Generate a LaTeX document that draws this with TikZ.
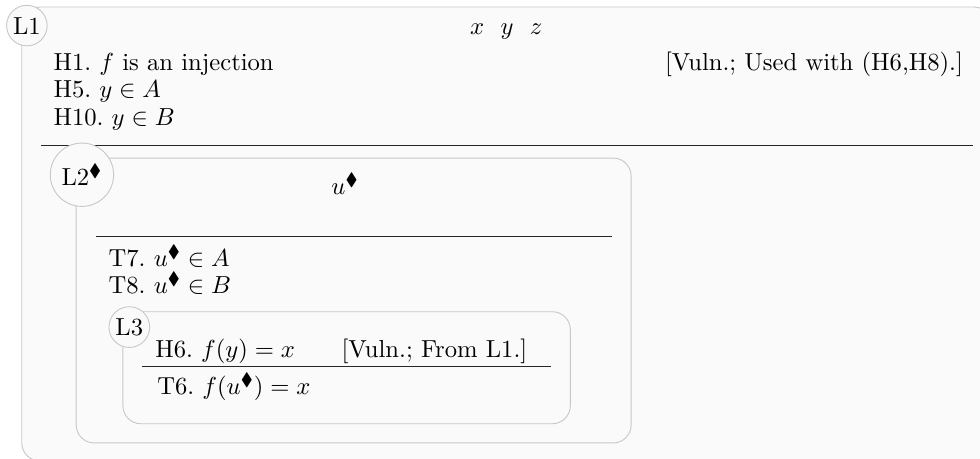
\documentclass[tikz,border=0pt,11pt]{standalone}
\usepackage{amssymb}
\usetikzlibrary{positioning}

\frenchspacing
\newcommand{\dmd}{{\blacklozenge}}

\begin{document}
\begin{tikzpicture}[
  x=1cm, y=1cm,
  level/.style={draw=black!22, fill=black!2, line width=0.4pt, rounded corners=8pt},
  tag/.style={circle, draw=black!22, fill=black!2, line width=0.4pt, inner sep=1.3pt},
  rule/.style={black!85, line width=0.5pt},
  fml/.style={inner sep=0pt}
]
  \useasboundingbox (0,0) rectangle (15.31,7.17);
  \clip (0,0) rectangle (15.31,7.17);

  %% ============================================ level one, open at right
  \draw[level] (0.34,-0.03) rectangle (15.50,7.06);
  \node[fml] (vars) at (7.91,6.67) {$x\ \ y\ \ z$};
  \node[fml, anchor=base west] (h1) at (0.83,6.07) {H1. $f$ is an injection};
  \node[fml, anchor=base west] (h5) at (0.83,5.64) {H5. $y \in A$};
  \node[fml, anchor=base west] (h10) at (0.83,5.21) {H10. $y \in B$};
  \node[fml, anchor=base east] (h1note) at (15.05,6.07) {[Vuln.; Used with (H6,H8).]};
  \draw[rule] (0.64,4.89) -- (15.20,4.89);

  %% -------------------------------------------------------- level two
  \draw[level] (1.19,0.25) rectangle (9.86,4.70);
  \node[fml, anchor=base] (fresh) at (5.39,4.13) {$u^\dmd$};
  \draw[rule] (1.50,3.47) -- (9.56,3.47);
  \node[fml, anchor=base west] (t7) at (1.69,3.00) {T7. $u^\dmd \in A$};
  \node[fml, anchor=base west] (t8) at (1.69,2.58) {T8. $u^\dmd \in B$};

  %% -------------------------------------------------------- level three
  \draw[level] (1.92,0.55) rectangle (8.91,2.30);
  \node[fml, anchor=base west] (h6) at (2.42,1.59) {H6. $f(y) = x$};
  \node[fml, anchor=base west] (h6note) at (5.33,1.59) {[Vuln.; From L1.]};
  \draw[rule] (2.22,1.44) -- (8.61,1.44);
  \node[fml, anchor=base west] (t6) at (2.45,1.00) {T6. $f(u^\dmd) = x$};

  %% ========================================= the level tags, on the corners
  \node[tag] (tagA) at (0.42,6.77) {L1};
  \node[tag, inner sep=2.8pt] (tagB) at (1.28,4.44) {L2$^\dmd$};
  \node[tag] (tagC) at (2.02,2.06) {L3};

\end{tikzpicture}
\end{document}
